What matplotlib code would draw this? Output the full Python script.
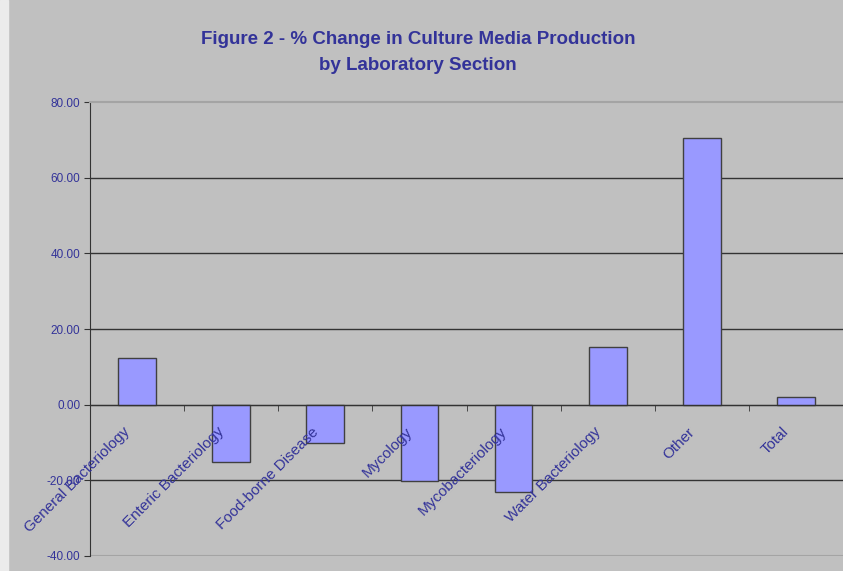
import numpy as np
import matplotlib
matplotlib.use('Agg')
import matplotlib.pyplot as plt
import matplotlib.transforms as mtransforms
from matplotlib.patches import Rectangle

sections = ['General Bacteriology', 'Enteric Bacteriology', 'Food-borne Disease', 'Mycology',
            'Mycobacteriology', 'Water Bacteriology', 'Other', 'Total']
pct_change = [12.4, -15.1, -10.0, -20.1, -23.0, 15.3, 70.6, 1.9]
y_ticks = [-40, -20, 0, 20, 40, 60, 80]

TEXT_COL = '#333399'
BG = '#c0c0c0'

plt.rcParams['font.family'] = ['Liberation Sans', 'DejaVu Sans']

fig = plt.figure(figsize=(8.43, 5.71), dpi=100, facecolor=BG)
# light strip on the left edge
fig.patches.append(Rectangle((0, 0), 8 / 843, 1, transform=fig.transFigure, color='#ebebeb', zorder=0))

ax = fig.add_axes([90 / 843, 15 / 571, 753 / 843, 454 / 571])
ax.set_facecolor(BG)

# gridlines under the bars, tick labels above them
for v in y_ticks[1:-1]:
    ax.axhline(v, color='#333333', linewidth=1, zorder=1)
ax.axhline(y_ticks[0], color='#a4a4a4', linewidth=1.5, zorder=1)

x = np.arange(len(sections))
ax.bar(x, pct_change, width=0.4, color='#9999ff', edgecolor='#404040', linewidth=1, zorder=2)

ax.set_xlim(-0.5, -0.5 + 753 / 94.5)
ax.set_ylim(-40, 80)
ax.set_yticks(y_ticks)
ax.set_yticklabels(['%.2f' % v for v in y_ticks], color=TEXT_COL, fontsize=8.5)

ax.spines['right'].set_visible(False)
ax.spines['top'].set_color('#a4a4a4')
ax.spines['top'].set_linewidth(1.5)
ax.spines['left'].set_color('#333333')
ax.spines['bottom'].set_position(('data', 0))
ax.spines['bottom'].set_color('#333333')

ax.tick_params(axis='y', direction='out', length=4, color='#333333', pad=3)
ax.set_xticks(x)
ax.set_xticklabels(sections, rotation=45, ha='right', va='center', rotation_mode='anchor',
                   color=TEXT_COL, fontsize=11)
ax.tick_params(axis='x', which='major', length=0, pad=18)
ax.set_xticks(np.arange(0.5, len(sections), 1.0), minor=True)
ax.tick_params(axis='x', which='minor', direction='out', length=4, color='#333333')
ax.xaxis.set_zorder(5)

offset = mtransforms.ScaledTranslation(-9 / 100, 0, fig.dpi_scale_trans)
for lbl in ax.get_xticklabels():
    lbl.set_transform(lbl.get_transform() + offset)

fig.text(418 / 843, 1 - 40 / 571, 'Figure 2 - % Change in Culture Media Production',
         ha='center', va='center', fontsize=13.5, fontweight='bold', color=TEXT_COL)
fig.text(418 / 843, 1 - 66 / 571, 'by Laboratory Section',
         ha='center', va='center', fontsize=13.5, fontweight='bold', color=TEXT_COL)

fig.savefig('out.png', dpi=100, facecolor=BG)
